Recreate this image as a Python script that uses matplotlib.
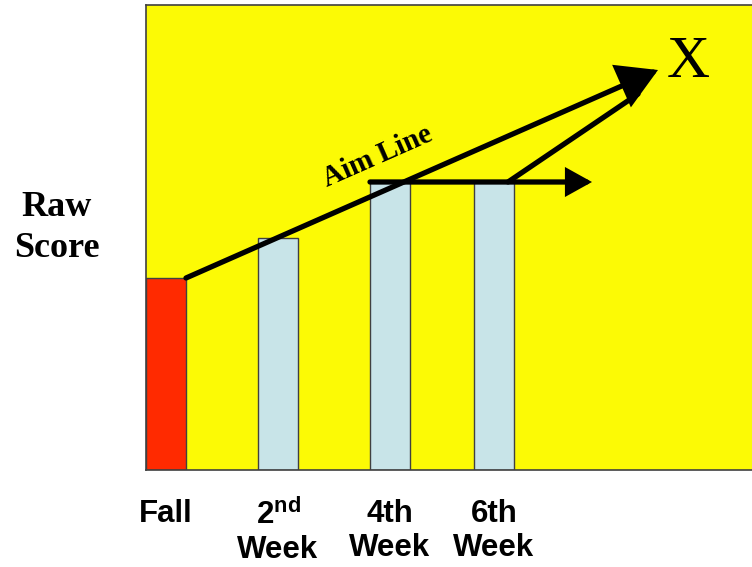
import matplotlib.pyplot as plt
import numpy as np

plt.rcParams['mathtext.fontset'] = 'custom'
plt.rcParams['mathtext.rm'] = 'Liberation Sans:bold'
plt.rcParams['mathtext.bf'] = 'Liberation Sans:bold'

# probe scores
labels = ['Fall', '2$^{\\mathrm{nd}}$\nWeek', '4th\nWeek', '6th\nWeek']
scores = [19.2, 23.2, 28.8, 28.8]
goal_score = 40.0

# layout
xpos = [0.5, 3.3, 6.1, 8.7]
goal_x = 12.8
bar_colors = ['#ff2a00', '#c8e4e8', '#c8e4e8', '#c8e4e8']

fig = plt.figure(figsize=(7.52, 5.67), dpi=100)
ax = fig.add_axes([146 / 752, 97 / 567, 607 / 752, 465 / 567])
ax.set_facecolor('#fcfa05')

ax.bar(xpos, scores, width=1.0, color=bar_colors, edgecolor='#404040', linewidth=1.0, zorder=2)

arrow = dict(arrowstyle='-|>,head_length=0.36,head_width=0.2', mutation_scale=38,
             lw=3.8, color='black', shrinkA=0, shrinkB=0, joinstyle='miter')
big = dict(arrow, arrowstyle='-|>,head_length=0.48,head_width=0.28', mutation_scale=48)

# rise needed from week 6 back to the goal, ends under the aim arrowhead
ax.annotate('', xy=(goal_x - 0.5, goal_score - 2.4), xytext=(xpos[3] + 0.35, scores[3]),
            arrowprops=dict(arrow, arrowstyle='-'), zorder=3)
# aim line from the fall score to the goal
ax.annotate('', xy=(goal_x, goal_score), xytext=(xpos[0] + 0.5, scores[0]), arrowprops=big, zorder=3)
# flat trend across weeks 4 and 6
ax.annotate('', xy=(11.15, scores[3]), xytext=(xpos[2] - 0.5, scores[2]), arrowprops=arrow, zorder=3)

ang = np.degrees(np.arctan2((goal_score - scores[0]) * 10, (goal_x - xpos[0] - 0.5) * 40))
ax.text(5.8, 31.3, 'Aim Line', rotation=ang, rotation_mode='anchor', ha='center', va='center',
        family='Liberation Serif', fontweight='bold', fontsize=21)
ax.text(13.55, 40.7, 'X', ha='center', va='center', family='Liberation Serif', fontsize=43)

ax.set_xlim(0, 607 / 40)
ax.set_ylim(0, 46.5)
ax.set_yticks([])
ax.set_xticks(xpos)
ax.set_xticklabels(labels, family='Liberation Sans', fontweight='bold', fontsize=22.5, linespacing=1.15)
ax.tick_params(axis='x', length=0, pad=21)
for s in ['left', 'top', 'bottom']:
    ax.spines[s].set_color('#404040')
    ax.spines[s].set_linewidth(1.2)
ax.spines['right'].set_visible(False)

fig.text(57 / 752, 1 - 228 / 567, 'Raw\nScore', ha='center', va='center', family='Liberation Serif',
         fontweight='bold', fontsize=26, linespacing=1.3)

fig.savefig('out.png')
